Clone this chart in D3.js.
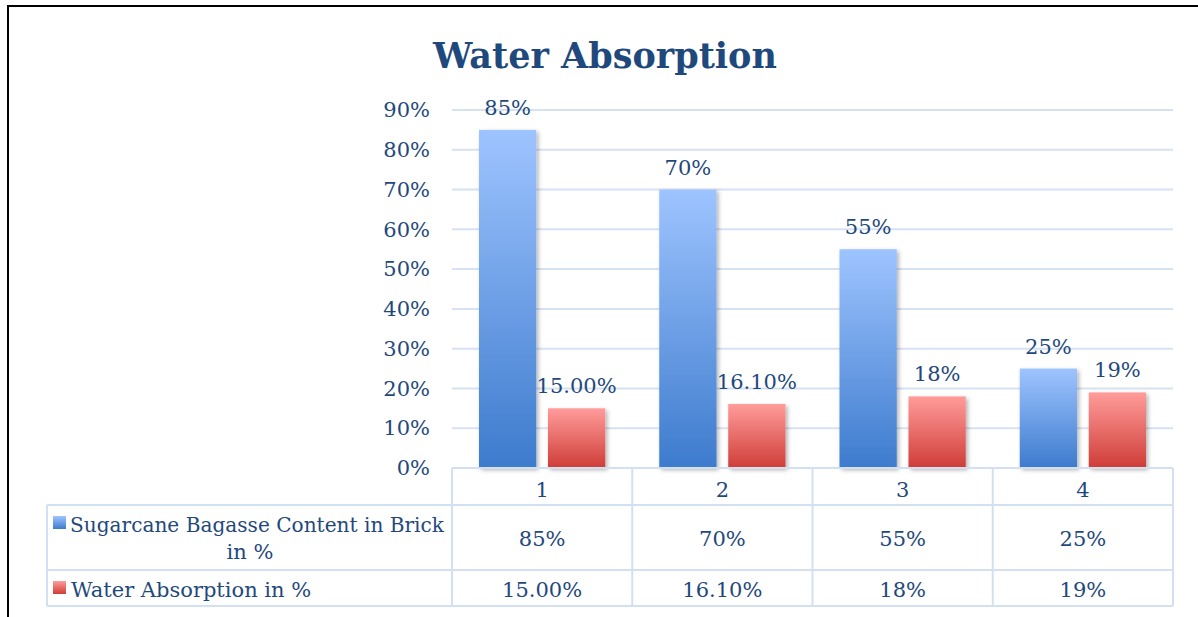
<!DOCTYPE html>
<html>
<head>
<meta charset="utf-8">
<script src="https://cdn.jsdelivr.net/npm/d3@7"></script>
<style>
  body { margin: 0; background: #fff; }
  text { font-family: "DejaVu Serif", "Liberation Serif", serif; }
</style>
</head>
<body>
<div id="vis"></div>
<script>
var width = 1198,
    height = 617;

// data
var categories = ["1", "2", "3", "4"];
var seriesNames = ["Sugarcane Bagasse Content in Brick in %", "Water Absorption in %"];
var bagasse = [0.85, 0.70, 0.55, 0.25];
var absorption = [0.15, 0.161, 0.18, 0.19];
var bagasseLabels = ["85%", "70%", "55%", "25%"];
var absorptionLabels = ["15.00%", "16.10%", "18%", "19%"];
var yTicks = [0, 0.1, 0.2, 0.3, 0.4, 0.5, 0.6, 0.7, 0.8, 0.9];

var textColor = "#1f497d",
    gridColor = "#d6e2f2",
    tableColor = "#d3e0f1",
    fs = 21;

var svg = d3.select("#vis").append("svg")
    .attr("width", width)
    .attr("height", height);

// gradients
var defs = svg.append("defs");
function grad(id, top, bottom) {
  var g = defs.append("linearGradient").attr("id", id)
      .attr("x1", 0).attr("y1", 0).attr("x2", 0).attr("y2", 1);
  g.append("stop").attr("offset", "0%").attr("stop-color", top);
  g.append("stop").attr("offset", "100%").attr("stop-color", bottom);
}
grad("gBlue", "#9ec4ff", "#3d7bcd");
grad("gRed", "#ff9c9a", "#cf3d38");
var shadow = defs.append("filter").attr("id", "shadow")
    .attr("x", "-20%").attr("y", "-10%").attr("width", "150%").attr("height", "130%");
shadow.append("feDropShadow").attr("dx", 2).attr("dy", 2).attr("stdDeviation", 2)
    .attr("flood-color", "#000").attr("flood-opacity", 0.3);

// outer frame
svg.append("path")
    .attr("d", "M8," + height + "V6H" + width)
    .attr("fill", "none")
    .attr("stroke", "#000")
    .attr("stroke-width", 2);

// title
svg.append("text")
    .attr("x", 605)
    .attr("y", 68)
    .attr("text-anchor", "middle")
    .attr("font-size", 35)
    .attr("font-weight", "bold")
    .attr("fill", textColor)
    .text("Water Absorption");

var margin = {left: 452, right: 1173, top: 110, bottom: 468};

var x = d3.scaleBand()
    .domain(categories)
    .range([margin.left, margin.right]);

var xInner = d3.scaleBand()
    .domain([0, 1])
    .range([27, x.bandwidth() - 27])
    .paddingInner(0.17);

var y = d3.scaleLinear()
    .domain([0, 0.9])
    .range([margin.bottom, margin.top]);

// gridlines
svg.append("g")
  .selectAll("line")
  .data(yTicks.slice(1))
  .enter().append("line")
    .attr("x1", margin.left)
    .attr("x2", margin.right)
    .attr("y1", function(d) { return y(d); })
    .attr("y2", function(d) { return y(d); })
    .attr("stroke", gridColor)
    .attr("stroke-width", 2);

// y axis labels
var yAxis = d3.axisLeft(y)
    .tickValues(yTicks)
    .tickFormat(d3.format(".0%"))
    .tickSize(0)
    .tickPadding(22);

var yg = svg.append("g")
    .attr("transform", "translate(" + margin.left + ",0)")
    .call(yAxis);
yg.select(".domain").remove();
yg.selectAll("text")
    .attr("font-family", "DejaVu Serif")
    .attr("font-size", fs)
    .attr("fill", textColor);

// bars
var series = [
  {values: bagasse, labels: bagasseLabels, fill: "url(#gBlue)"},
  {values: absorption, labels: absorptionLabels, fill: "url(#gRed)"}
];

series.forEach(function(s, si) {
  var g = svg.append("g");
  g.selectAll("rect")
    .data(s.values)
    .enter().append("rect")
      .attr("x", function(d, i) { return x(categories[i]) + xInner(si); })
      .attr("y", function(d) { return y(d); })
      .attr("width", xInner.bandwidth())
      .attr("height", function(d) { return y(0) - y(d); })
      .attr("fill", s.fill)
      .attr("filter", "url(#shadow)");

  g.selectAll("text")
    .data(s.values)
    .enter().append("text")
      .attr("x", function(d, i) { return x(categories[i]) + xInner(si) + xInner.bandwidth() / 2; })
      .attr("y", function(d) { return y(d) - 15; })
      .attr("text-anchor", "middle")
      .attr("font-size", fs)
      .attr("fill", textColor)
      .text(function(d, i) { return s.labels[i]; });
});

// data table
var tableLeft = 47,
    rowTops = [468, 505, 570, 606];

var table = svg.append("g")
    .attr("stroke", tableColor)
    .attr("stroke-width", 2)
    .attr("fill", "none");

table.append("line").attr("x1", margin.left).attr("x2", margin.right).attr("y1", rowTops[0]).attr("y2", rowTops[0]);
rowTops.slice(1).forEach(function(r) {
  table.append("line").attr("x1", tableLeft).attr("x2", margin.right).attr("y1", r).attr("y2", r);
});
table.append("line").attr("x1", tableLeft).attr("x2", tableLeft).attr("y1", rowTops[1]).attr("y2", rowTops[3]);
categories.forEach(function(c) {
  table.append("line").attr("x1", x(c)).attr("x2", x(c)).attr("y1", rowTops[0]).attr("y2", rowTops[3]);
});
table.append("line").attr("x1", margin.right).attr("x2", margin.right).attr("y1", rowTops[0]).attr("y2", rowTops[3]);

// header row: category numbers
svg.append("g").selectAll("text")
  .data(categories)
  .enter().append("text")
    .attr("x", function(d) { return x(d) + x.bandwidth() / 2; })
    .attr("y", 497)
    .attr("text-anchor", "middle")
    .attr("font-size", fs)
    .attr("fill", textColor)
    .text(function(d) { return d; });

// row values
var rowBaselines = [546, 597];
series.forEach(function(s, si) {
  svg.append("g").selectAll("text")
    .data(s.labels)
    .enter().append("text")
      .attr("x", function(d, i) { return x(categories[i]) + x.bandwidth() / 2; })
      .attr("y", rowBaselines[si])
      .attr("text-anchor", "middle")
      .attr("font-size", fs)
      .attr("fill", textColor)
      .text(function(d) { return d; });
});

// legend keys + row headers
svg.append("rect").attr("x", 53).attr("y", 516).attr("width", 13).attr("height", 13).attr("fill", "url(#gBlue)");
svg.append("text")
    .attr("x", 70).attr("y", 532)
    .attr("font-size", fs)
    .attr("textLength", 374)
    .attr("lengthAdjust", "spacingAndGlyphs")
    .attr("fill", textColor)
    .text("Sugarcane Bagasse Content in Brick");
svg.append("text")
    .attr("x", 250).attr("y", 559)
    .attr("text-anchor", "middle")
    .attr("font-size", fs)
    .attr("fill", textColor)
    .text("in %");

svg.append("rect").attr("x", 53).attr("y", 581).attr("width", 13).attr("height", 13).attr("fill", "url(#gRed)");
svg.append("text")
    .attr("x", 71).attr("y", 597)
    .attr("font-size", fs)
    .attr("fill", textColor)
    .text("Water Absorption in %");
</script>
</body>
</html>
